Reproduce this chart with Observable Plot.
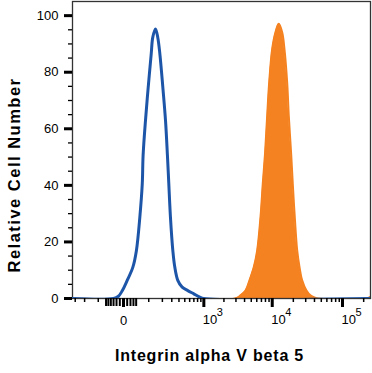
<!DOCTYPE html>
<html><head><meta charset="utf-8">
<script src="https://cdn.jsdelivr.net/npm/d3@7"></script>
<script src="https://cdn.jsdelivr.net/npm/@observablehq/plot@0.6"></script>
<style>body{margin:0;background:#fff;} svg{display:block}</style>
</head><body><div id="chart"></div>
<script>
// Isotype control (blue outline) – fluorescence value vs relative count
const isotypeFluor = [-335, -30, -14, -3, 10, 28, 41, 55, 66, 70, 82, 97, 115, 125, 144, 161, 178, 204, 230, 250, 265, 284, 313, 339, 382, 453, 560, 698, 866, 990, 250000];
const isotypeCount = [0, 0, 0.8, 2.8, 6.4, 11.1, 17, 28.7, 40.5, 50.5, 62.9, 74.7, 86.5, 92.3, 95.3, 92.3, 86.5, 74.7, 62.9, 50.5, 40.5, 28.7, 17, 11.1, 6.4, 4.0, 2.8, 1.65, 0.5, 0, 0];
// Integrin alpha V beta 5 stained (orange filled)
const stainedFluor = [-335, 2900, 3494, 4126, 4710, 5438, 6082, 6783, 7316, 7870, 8465, 9040, 9975, 11120, 12400, 13870, 14950, 16340, 17220, 18640, 19650, 20980, 22700, 24500, 26740, 30770, 35070, 39080, 45600, 215000, 250000];
const stainedCount = [0, 0, 1.1, 2.8, 6.4, 11.1, 17, 28.7, 40.5, 51, 64.7, 76.4, 88.2, 94.1, 97.1, 94.1, 88.2, 76.4, 64.7, 51, 40.5, 28.7, 17, 11.1, 6.4, 2.8, 1.1, 0.5, 0, 0, 0.6];

const yMajorTicks = [0, 20, 40, 60, 80, 100];
const yMinorTicks = [5, 10, 15, 25, 30, 35, 45, 50, 55, 65, 70, 75, 85, 90, 95];
const xMajorTicks = [0, 1000, 10000, 100000];
const xClusterTicks = [-60, -50, -40, -30, -20, -10, 10, 20, 30, 40];
const xMinorTicks = [-300, -200, -100, 100, 200, 300, 400, 500, 600, 700, 800, 900,
  2000, 3000, 4000, 5000, 6000, 7000, 8000, 9000,
  20000, 30000, 40000, 50000, 60000, 70000, 80000, 90000, 200000];
const xZeroLabel = ["0"];
const xDecadeTicks = [1000, 10000, 100000];
const xDecadeBase = ["10", "10", "10"];
const xDecadeExp = ["3", "4", "5"];
const xTitle = "Integrin alpha V beta 5";
const yTitle = "Relative Cell Number";

const isotype = isotypeFluor.map((v, i) => ({fluor: v, count: isotypeCount[i]}));
const stained = stainedFluor.map((v, i) => ({fluor: v, count: stainedCount[i]}));

const blue = "#1d56a8";
const orange = "#f58220";
const noText = () => "";

const chart = Plot.plot({
  width: 372,
  height: 373,
  marginLeft: 72,
  marginRight: 2,
  marginTop: 1,
  marginBottom: 75,
  style: {fontFamily: "'Liberation Sans', Arial, sans-serif", background: "#fff", color: "#000"},
  x: {type: "symlog", constant: 78, domain: [-335, 250000], label: null},
  y: {domain: [0, 105], label: null},
  marks: [
    Plot.areaY(stained, {x: "fluor", y: "count", fill: orange, curve: "catmull-rom", clip: true}),
    Plot.lineY(stained, {x: "fluor", y: "count", stroke: orange, strokeWidth: 2, curve: "catmull-rom", clip: true}),
    Plot.frame({stroke: "#333", strokeWidth: 1.3}),
    Plot.lineY(isotype, {x: "fluor", y: "count", stroke: blue, strokeWidth: 3, curve: "catmull-rom", clip: true}),
    Plot.axisY({ticks: yMajorTicks, tickSize: 8, tickPadding: 6, strokeWidth: 3, fontSize: 13, label: null}),
    Plot.axisY({ticks: yMinorTicks, tickSize: 4, strokeWidth: 1.3, tickFormat: noText, label: null}),
    Plot.axisX({ticks: xMajorTicks, tickSize: 9, strokeWidth: 3, tickFormat: noText, label: null}),
    Plot.axisX({ticks: xClusterTicks, tickSize: 8, strokeWidth: 2, tickFormat: noText, label: null}),
    Plot.axisX({ticks: xMinorTicks, tickSize: 4, strokeWidth: 1.5, tickFormat: noText, label: null}),
    Plot.text([0], {x: d => d, text: (d, i) => xZeroLabel[i], frameAnchor: "bottom", dy: 26, fontSize: 13, fill: "#000"}),
    Plot.text(xDecadeTicks, {x: d => d, text: (d, i) => xDecadeBase[i], frameAnchor: "bottom", textAnchor: "start", dx: -1, dy: 25, fontSize: 13, fill: "#000"}),
    Plot.text(xDecadeTicks, {x: d => d, text: (d, i) => xDecadeExp[i], frameAnchor: "bottom", textAnchor: "start", dx: 13, dy: 17, fontSize: 11, fill: "#000"}),
    Plot.text([xTitle], {frameAnchor: "bottom", textAnchor: "middle", dx: -12, dy: 62, fontSize: 16, fontWeight: "bold", fill: "#000"}),
    Plot.text([yTitle], {frameAnchor: "left", textAnchor: "middle", rotate: -90, dx: -58, dy: 25, fontSize: 16.5, fontWeight: "bold", fill: "#000"})
  ]
});
document.getElementById("chart").appendChild(chart);
d3.select(chart).selectAll("text").filter(function() { return this.textContent === xTitle; }).style("letter-spacing", "0.8px");
d3.select(chart).selectAll("text").filter(function() { return this.textContent === yTitle; }).style("letter-spacing", "1.5px");
</script>
</body></html>
